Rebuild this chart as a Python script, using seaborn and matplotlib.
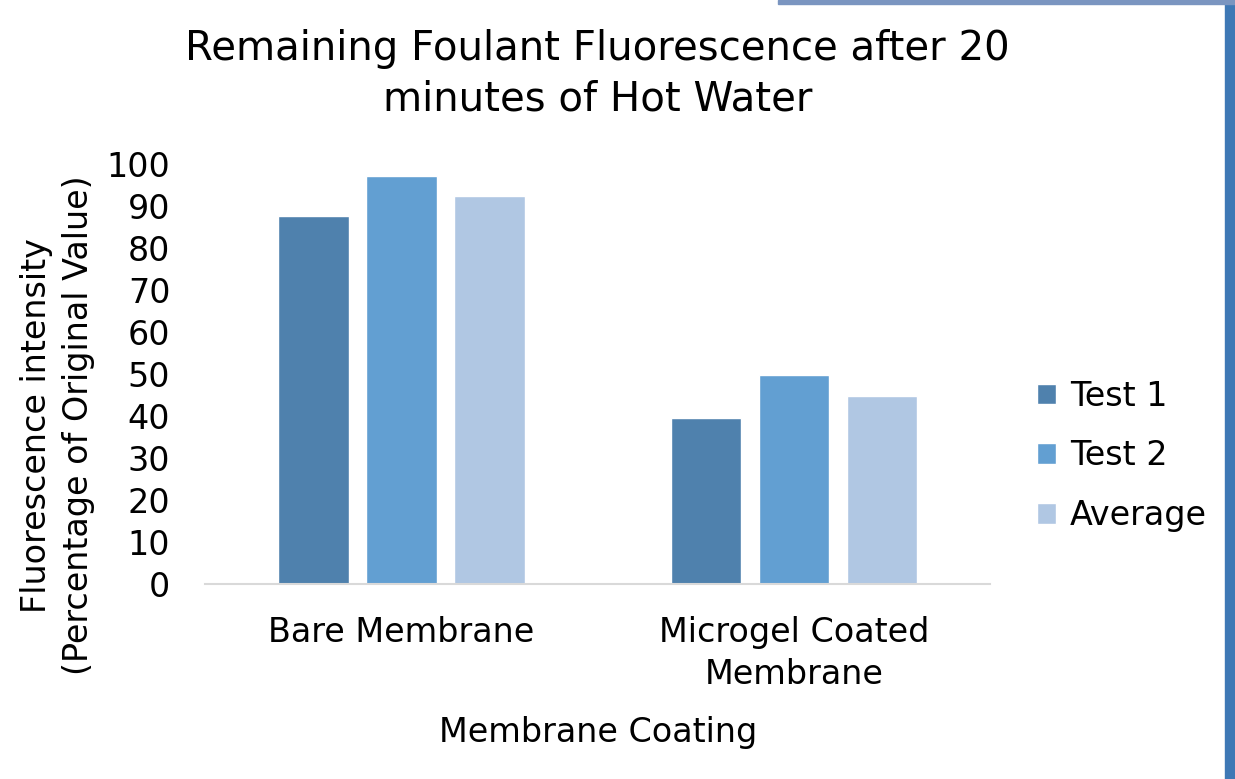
import matplotlib
matplotlib.use('Agg')
import matplotlib.pyplot as plt
import seaborn as sns
import pandas as pd
from matplotlib.patches import Rectangle

categories = ['Bare Membrane', 'Microgel Coated\nMembrane']
series = ['Test 1', 'Test 2', 'Average']
test1 = [87.5, 39.5]
test2 = [97.2, 49.8]
average = [92.4, 44.7]
colors = ['#4F81AD', '#629FD2', '#B0C7E3']

df = pd.DataFrame({
    'coating': categories * 3,
    'series': [s for s in series for _ in categories],
    'value': test1 + test2 + average,
})

sns.set_style('white')
plt.rcParams['font.family'] = ['DejaVu Sans']
plt.rcParams['text.color'] = 'black'
plt.rcParams['axes.labelcolor'] = 'black'
plt.rcParams['xtick.color'] = 'black'
plt.rcParams['ytick.color'] = 'black'

fig = plt.figure(figsize=(12.35, 7.79), dpi=100)
ax = fig.add_axes([0.166, 0.2503, 0.636, 0.5392])

sns.barplot(data=df, x='coating', y='value', hue='series', palette=colors,
            width=0.672, gap=0.2, ax=ax, saturation=1, errorbar=None)

ax.set_ylim(0, 100)
ax.set_xlim(-0.5, 1.5)
ax.set_yticks(range(0, 101, 10))
ax.tick_params(axis='y', labelsize=24, length=0, pad=25)
ax.tick_params(axis='x', labelsize=24, length=0, pad=23)
for lab in ax.get_xticklabels():
    lab.set_linespacing(1.35)
for s in ['top', 'right', 'left']:
    ax.spines[s].set_visible(False)
ax.spines['bottom'].set_color('#D9D9D9')
ax.spines['bottom'].set_linewidth(1.5)

ax.set_xlabel('Membrane Coating', fontsize=24, labelpad=18)
ax.set_ylabel('Fluorescence intensity\n(Percentage of Original Value)', fontsize=24,
              linespacing=1.35)
ax.yaxis.set_label_coords(-0.14, 0.378)
fig.text(0.484, 1 - 74 / 779, 'Remaining Foulant Fluorescence after 20\nminutes of Hot Water',
         fontsize=29, ha='center', va='center', linespacing=1.35)

leg = ax.legend(loc='center left', bbox_to_anchor=(1.021, 0.305), frameon=False,
                fontsize=24, handlelength=0.58, handleheight=0.58,
                handletextpad=0.4, labelspacing=0.8)

# slide frame decoration
fig.patches.append(Rectangle((0.992, 0), 0.008, 1, transform=fig.transFigure,
                             color='#3E78B5', zorder=0))
fig.patches.append(Rectangle((0.63, 0.995), 0.37, 0.005, transform=fig.transFigure,
                             color='#7A95C0', zorder=0))

fig.savefig('out.png', dpi=100)
